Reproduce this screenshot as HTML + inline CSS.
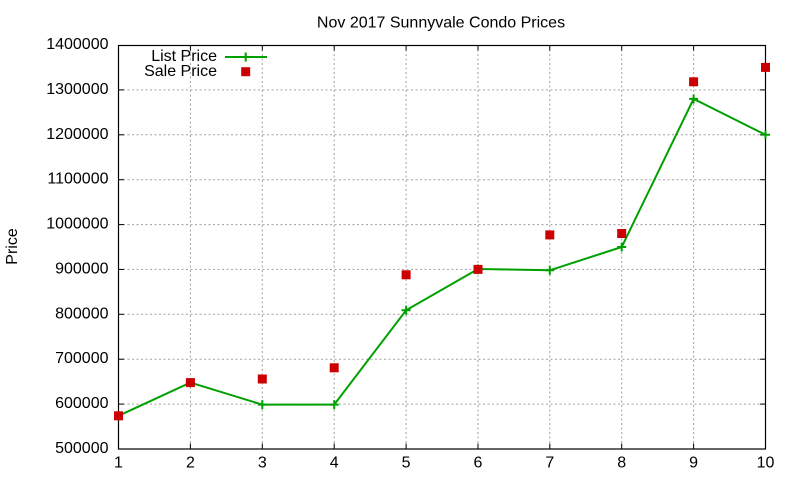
<!DOCTYPE html>
<html>
<head>
<meta charset="utf-8">
<style>
html,body{margin:0;padding:0;background:#fff;}
svg{display:block;}
text{font-family:"Liberation Sans",Arial,sans-serif;font-size:16px;fill:#000;}
</style>
</head>
<body>
<svg width="800" height="480" viewBox="0 0 800 480" xmlns="http://www.w3.org/2000/svg">
<rect x="0" y="0" width="800" height="480" fill="#fff"/>
<!-- grid -->
<g stroke="#a0a0a0" stroke-width="1" stroke-dasharray="2,2.5" fill="none">
<line x1="118.5" y1="404.1" x2="765.5" y2="404.1"/>
<line x1="118.5" y1="359.2" x2="765.5" y2="359.2"/>
<line x1="118.5" y1="314.3" x2="765.5" y2="314.3"/>
<line x1="118.5" y1="269.4" x2="765.5" y2="269.4"/>
<line x1="118.5" y1="224.6" x2="765.5" y2="224.6"/>
<line x1="118.5" y1="179.7" x2="765.5" y2="179.7"/>
<line x1="118.5" y1="134.8" x2="765.5" y2="134.8"/>
<line x1="118.5" y1="89.9" x2="765.5" y2="89.9"/>
<line x1="190.4" y1="45" x2="190.4" y2="449"/>
<line x1="262.3" y1="45" x2="262.3" y2="449"/>
<line x1="334.2" y1="45" x2="334.2" y2="449"/>
<line x1="406.1" y1="45" x2="406.1" y2="449"/>
<line x1="478.0" y1="45" x2="478.0" y2="449"/>
<line x1="549.8" y1="45" x2="549.8" y2="449"/>
<line x1="621.7" y1="45" x2="621.7" y2="449"/>
<line x1="693.6" y1="45" x2="693.6" y2="449"/>
</g>
<!-- ticks -->
<g stroke="#000" stroke-width="1">
<line x1="118.5" y1="404.1" x2="124" y2="404.1"/><line x1="760" y1="404.1" x2="765.5" y2="404.1"/>
<line x1="118.5" y1="359.2" x2="124" y2="359.2"/><line x1="760" y1="359.2" x2="765.5" y2="359.2"/>
<line x1="118.5" y1="314.3" x2="124" y2="314.3"/><line x1="760" y1="314.3" x2="765.5" y2="314.3"/>
<line x1="118.5" y1="269.4" x2="124" y2="269.4"/><line x1="760" y1="269.4" x2="765.5" y2="269.4"/>
<line x1="118.5" y1="224.6" x2="124" y2="224.6"/><line x1="760" y1="224.6" x2="765.5" y2="224.6"/>
<line x1="118.5" y1="179.7" x2="124" y2="179.7"/><line x1="760" y1="179.7" x2="765.5" y2="179.7"/>
<line x1="118.5" y1="134.8" x2="124" y2="134.8"/><line x1="760" y1="134.8" x2="765.5" y2="134.8"/>
<line x1="118.5" y1="89.9" x2="124" y2="89.9"/><line x1="760" y1="89.9" x2="765.5" y2="89.9"/>
<line x1="190.4" y1="449" x2="190.4" y2="443.5"/><line x1="190.4" y1="45" x2="190.4" y2="50.5"/>
<line x1="262.3" y1="449" x2="262.3" y2="443.5"/><line x1="262.3" y1="45" x2="262.3" y2="50.5"/>
<line x1="334.2" y1="449" x2="334.2" y2="443.5"/><line x1="334.2" y1="45" x2="334.2" y2="50.5"/>
<line x1="406.1" y1="449" x2="406.1" y2="443.5"/><line x1="406.1" y1="45" x2="406.1" y2="50.5"/>
<line x1="478.0" y1="449" x2="478.0" y2="443.5"/><line x1="478.0" y1="45" x2="478.0" y2="50.5"/>
<line x1="549.8" y1="449" x2="549.8" y2="443.5"/><line x1="549.8" y1="45" x2="549.8" y2="50.5"/>
<line x1="621.7" y1="449" x2="621.7" y2="443.5"/><line x1="621.7" y1="45" x2="621.7" y2="50.5"/>
<line x1="693.6" y1="449" x2="693.6" y2="443.5"/><line x1="693.6" y1="45" x2="693.6" y2="50.5"/>
</g>
<!-- frame -->
<rect x="118.5" y="45.5" width="647" height="403.5" fill="none" stroke="#000" stroke-width="1.2"/>
<!-- y labels -->
<g text-anchor="end">
<text x="108.5" y="453">500000</text>
<text x="108.5" y="408.1">600000</text>
<text x="108.5" y="363.2">700000</text>
<text x="108.5" y="318.3">800000</text>
<text x="108.5" y="273.4">900000</text>
<text x="108.5" y="228.6">1000000</text>
<text x="108.5" y="183.7">1100000</text>
<text x="108.5" y="138.8">1200000</text>
<text x="108.5" y="93.9">1300000</text>
<text x="108.5" y="49">1400000</text>
</g>
<!-- x labels -->
<g text-anchor="middle">
<text x="118.5" y="467.5">1</text>
<text x="190.4" y="467.5">2</text>
<text x="262.3" y="467.5">3</text>
<text x="334.2" y="467.5">4</text>
<text x="406.1" y="467.5">5</text>
<text x="478.0" y="467.5">6</text>
<text x="549.8" y="467.5">7</text>
<text x="621.7" y="467.5">8</text>
<text x="693.6" y="467.5">9</text>
<text x="765.5" y="467.5">10</text>
</g>
<!-- title -->
<text x="441" y="27.5" text-anchor="middle">Nov 2017 Sunnyvale Condo Prices</text>
<!-- y axis label -->
<text transform="translate(17,246.5) rotate(-90)" text-anchor="middle">Price</text>
<!-- legend -->
<text x="217" y="61" text-anchor="end">List Price</text>
<text x="217" y="76" text-anchor="end">Sale Price</text>
<g stroke="#00a000" stroke-width="2" fill="none">
<line x1="225" y1="57" x2="267" y2="57"/>
<line x1="245.7" y1="52.5" x2="245.7" y2="61.5"/>
</g>
<rect x="241.2" y="67.2" width="9" height="9" fill="#cc0000"/>
<!-- list price line -->
<g stroke="#00a000" stroke-width="2" fill="none">
<polyline points="118.5,415.8 190.4,382.6 262.3,404.6 334.2,404.6 406.1,310.3 478.0,269.0 549.8,270.3 621.7,247.0 693.6,98.9 765.5,134.8"/>
<path d="M114,415.8h9M118.5,411.3v9
M185.9,382.6h9M190.4,378.1v9
M257.8,404.6h9M262.3,400.1v9
M329.7,404.6h9M334.2,400.1v9
M401.6,310.3h9M406.1,305.8v9
M473.5,269.0h9M478.0,264.5v9
M545.3,270.3h9M549.8,265.8v9
M617.2,247.0h9M621.7,242.5v9
M689.1,98.9h9M693.6,94.4v9
M761,134.8h9M765.5,130.3v9"/>
</g>
<!-- sale price points -->
<g fill="#cc0000">
<rect x="114" y="411.3" width="9" height="9"/>
<rect x="185.9" y="378.1" width="9" height="9"/>
<rect x="257.8" y="374.5" width="9" height="9"/>
<rect x="329.7" y="363.3" width="9" height="9"/>
<rect x="401.6" y="270.3" width="9" height="9"/>
<rect x="473.5" y="264.9" width="9" height="9"/>
<rect x="545.3" y="230.4" width="9" height="9"/>
<rect x="617.2" y="229.0" width="9" height="9"/>
<rect x="689.1" y="77.3" width="9" height="9"/>
<rect x="761" y="62.9" width="9" height="9"/>
</g>
</svg>
</body>
</html>
